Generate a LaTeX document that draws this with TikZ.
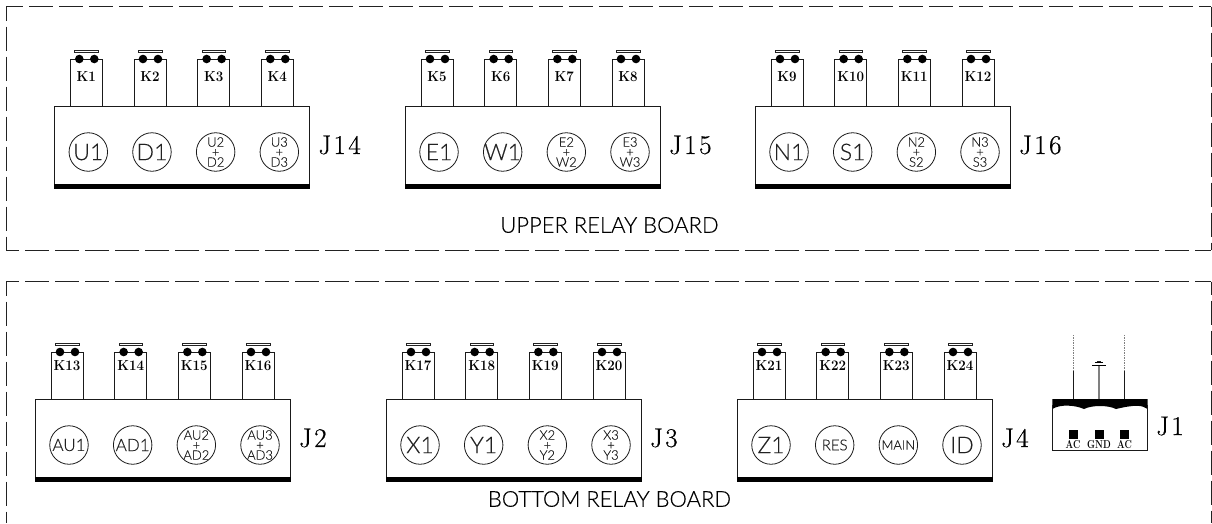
\documentclass[tikz,border=0pt]{standalone}
\usepackage{fontspec}
\setmainfont{Lato Light}[FakeBold=0.25]
\newfontfamily\lmr{Latin Modern Roman}
\definecolor{ink}{HTML}{1A1A1A}
\definecolor{soft}{HTML}{222222}
\tikzset{
  boardbox/.style={draw=ink,line width=.9pt,anchor=north west,minimum width=255pt,minimum height=79pt,inner sep=0pt},
  band/.style={fill=black,draw=none},
  tabline/.style={draw=ink,line width=.9pt},
  barbox/.style={draw=soft,line width=.8pt,fill=white},
  pin/.style={fill=black,circle,minimum size=8.6pt,inner sep=0pt},
  kterm/.style={font=\lmr\bfseries\fontsize{14.5}{14.5}\selectfont,inner sep=0pt,text=black,xscale=.92,transform shape},
  jterm/.style={font=\lmr\fontsize{27}{27}\selectfont\addfontfeatures{LetterSpace=9,FakeBold=0.6},inner sep=0pt,anchor=west,text=black},
  relay/.style={draw=ink,line width=.8pt,circle,minimum size=38.5pt,inner sep=0pt},
  rtext/.style={inner sep=0pt,text=soft},
  frame/.style={draw=soft,line width=.9pt},
  caption/.style={font=\fontsize{22}{22}\selectfont,text=black,inner sep=0pt},
  acterm/.style={font=\lmr\bfseries\fontsize{11.5}{11.5}\selectfont,inner sep=0pt,text=black,xscale=.78,transform shape}
}
\newcommand{\szt}[2]{\fontsize{#1}{#1}\selectfont #2}
\newcommand{\bg}[1]{\szt{23}{#1}}
\newcommand{\two}[2]{\vbox{\fontsize{13}{10}\selectfont\baselineskip=10pt\lineskiplimit=-100pt\halign{\hfil##\hfil\cr #1\cr +\cr #2\cr}}}
% #1 name, #2 left, #3 top, #4 first K number, #5 J label, #6 K label offset, #7 labels
\newcommand{\bd}[7]{%
  \node[boardbox] (#1) at (#2,#3) {};
  \fill[band] ([yshift=2pt]#1.south west) rectangle ([yshift=-3pt]#1.south east);
  \node[jterm] (#1lab) at ([xshift=8pt,yshift=1pt]#1.east) {#5};
  \foreach \lbl [count=\i from 0, evaluate=\i as \tx using #2+16+63.67*\i,
                 evaluate=\i as \cx using #2+34+63.67*\i,
                 evaluate=\i as \kn using int(#4+\i)] in {#7} {
    \draw[tabline] (\tx,#3) -- (\tx,#3-47) -- (\tx+32,#3-47) -- (\tx+32,#3);
    \draw[barbox] (\tx+4.5,#3-55.5) rectangle (\tx+28,#3-53.5);
    \node[pin] (#1p\i a) at (\tx+9,#3-47) {};
    \node[pin] (#1p\i b) at (\tx+24,#3-47) {};
    \node[kterm] (#1k\i) at (\tx+16,#3-#6) {K\kn};
    \node[relay] (#1c\i) at (\cx,#3+46) {};
    \node[rtext] at (#1c\i) {\lbl};
  }
}
\begin{document}
\begin{tikzpicture}[x=1pt,y=-1pt]
\useasboundingbox (0,0) rectangle (1212,523);
% frames
\draw[frame,dash pattern=on 24pt off 6pt,dash phase=7pt] (6,6.5) -- (1211,6.5);
\draw[frame,dash pattern=on 24pt off 6pt,dash phase=10pt] (6,6.5) -- (6,250);
\draw[frame,dash pattern=on 24pt off 6pt,dash phase=8pt] (1211,250) -- (6,250);
\draw[frame,dash pattern=on 24pt off 6pt,dash phase=4pt] (1211,6.5) -- (1211,250);
\draw[frame,dash pattern=on 24pt off 6pt,dash phase=8pt] (1211,281.5) -- (6,281.5);
\draw[frame,dash pattern=on 24pt off 6pt,dash phase=10pt] (6,281.5) -- (6,523);
\draw[frame,dash pattern=on 24pt off 6pt,dash phase=11pt] (1211,281.5) -- (1211,523);
% upper boards
\bd{jfourteen}{54.3}{106}{1}{J14}{29.5}{\bg{U1},\bg{D1},\two{U2}{D2},\two{U3}{D3}}
\bd{jfifteen}{405}{106}{5}{J15}{29.5}{\bg{E1},\bg{W1},\two{E2}{W2},\two{E3}{W3}}
\bd{jsixteen}{755}{106}{9}{J16}{29.5}{\bg{N1},\bg{S1},\two{N2}{S2},\two{N3}{S3}}
% lower boards
\bd{jtwo}{35}{399}{13}{J2}{33}{\szt{17}{AU1},\szt{17}{AD1},\two{AU2}{AD2},\two{AU3}{AD3}}
\bd{jthree}{386}{399}{17}{J3}{33}{\bg{X1},\bg{Y1},\two{X2}{Y2},\two{X3}{Y3}}
\bd{jfour}{737}{399}{21}{J4}{33}{\bg{Z1},\szt{15}{RES},\szt{13}{MAIN},\bg{ID}}
% captions
\node[caption] (up) at (609.5,225) {UPPER RELAY BOARD};
\node[caption] (low) at (609.5,499) {BOTTOM RELAY BOARD};
% J1
\coordinate (wa) at (1073,399); \coordinate (wb) at (1099,399); \coordinate (wc) at (1124,399);
\fill[black] (1052.3,399) -- (1147.7,399) -- (1147.7,409) .. controls (1142,405) and (1135,404.5) .. (1116,409) .. controls (1108,405) and (1092,405) .. (1084,409) .. controls (1075,405) and (1060,404) .. (1052.3,409) -- cycle;
\draw[tabline] (1052.3,405) -- (1052.3,450) -- (1147.7,450) -- (1147.7,405);
\draw[ink,line width=.9pt] (wa) -- (1073,371);
\draw[ink,line width=.9pt] (wc) -- (1124,371);
\draw[gray,line width=.9pt,dash pattern=on 1.5pt off 1pt] (1073,371) -- (1073,334);
\draw[gray,line width=.9pt,dash pattern=on 1.5pt off 1pt] (1124,371) -- (1124,334);
\draw[gray,line width=1.4pt] (wb) -- (1099,365);
\draw[black,line width=.9pt] (1092,365) -- (1106,365);
\draw[black,line width=.9pt] (1095,362.5) -- (1103,362.5);
\draw[soft,line width=.9pt] (1097,361) -- (1101,361);
\foreach \n/\xx in {a/1073.5,b/1099,c/1124.5} \fill[black] (\xx-4.5,430) rectangle (\xx+4.5,439);
\node[acterm] (aca) at (1073,444.3) {AC};
\node[acterm] (gnd) at (1099,444.3) {GND};
\node[acterm] (acb) at (1124.5,444.3) {AC};
\node[jterm] (jone) at (1156,426) {J1};
\end{tikzpicture}
\end{document}
